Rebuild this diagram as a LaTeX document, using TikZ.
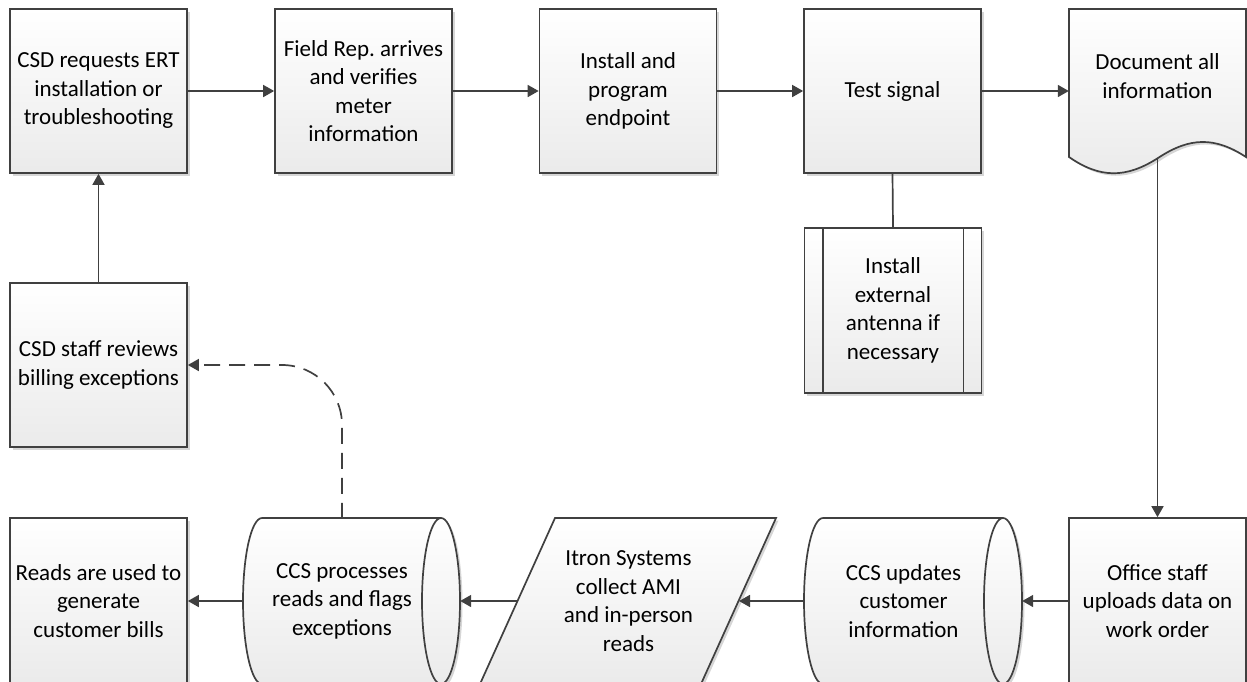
\documentclass[tikz,border=0pt]{standalone}
\usepackage{fontspec}
\setmainfont{Carlito}
\usetikzlibrary{arrows.meta,shadows,calc}
\frenchspacing

\definecolor{edge}{HTML}{404040}

\tikzset{
  shapefill/.style={draw=edge, line width=1.7pt, top color=white, bottom color=black!8,
    drop shadow={shadow xshift=2.5pt, shadow yshift=-2.5pt, fill=black, opacity=0.16}},
  txt/.style={align=center, inner sep=0pt, font=\fontsize{23}{28.5}\selectfont},
  procbox/.style={shapefill, txt, rectangle, minimum width=177pt, minimum height=164pt},
  ghost/.style={txt, rectangle, minimum width=#1, minimum height=164pt},
  flow/.style={draw=edge, line width=1.7pt, -{Triangle[length=11pt,width=12pt]}},
  link/.style={draw=edge, line width=1.7pt},
}

\begin{document}
\begin{tikzpicture}[x=1pt, y=-1pt]
\useasboundingbox (0,0) rectangle (1247,681);

% document shape with wavy bottom
\path[shapefill] (1069,9) -- (1246,9) -- (1246,157)
  .. controls (1215,136.8) and (1190,136.8) .. (1158,158)
  .. controls (1126,178.5) and (1100,178.5) .. (1069,157) -- cycle;

% database cylinder: CCS processes
\path[shapefill] (262,518) -- (441,518)
  arc[start angle=90, end angle=-90, x radius=19pt, y radius=83pt] -- (262,684)
  arc[start angle=270, end angle=90, x radius=19pt, y radius=83pt] -- cycle;
\draw[link] (441,518) arc[start angle=90, end angle=270, x radius=19pt, y radius=83pt];

% database cylinder: CCS updates
\path[shapefill] (823,518) -- (1003,518)
  arc[start angle=90, end angle=-90, x radius=19pt, y radius=83pt] -- (823,684)
  arc[start angle=270, end angle=90, x radius=19pt, y radius=83pt] -- cycle;
\draw[link] (1003,518) arc[start angle=90, end angle=270, x radius=19pt, y radius=83pt];

% data (parallelogram): Itron
\path[shapefill] (555,518) -- (776,518) -- (701,684) -- (480,684) -- cycle;

% top row
\node[procbox] (csd)   at (98.5,91)  {CSD requests ERT\\installation or\\troubleshooting};
\node[procbox] (field) at (363.5,91) {Field Rep. arrives\\and verifies\\meter\\information};
\node[procbox] (inst)  at (628,91)   {Install and\\program\\endpoint};
\node[procbox] (test)  at (892.5,91) {Test signal};
\node[ghost=177pt] (doc) at (1157.5,91) {};
\node[txt] (doctext) at (1157.5,76) {Document all\\information};

% predefined process
\node[procbox, minimum height=165pt] (sub) at (893,310.5) {Install\\external\\antenna if\\necessary};
\draw[link] ($(sub.north west)+(19,0)$) -- ($(sub.south west)+(19,0)$);
\draw[link] ($(sub.north east)+(-19,0)$) -- ($(sub.south east)+(-19,0)$);

% left column
\node[procbox] (review) at (98.5,365) {CSD staff reviews\\billing exceptions};

% bottom row
\node[procbox, minimum height=166pt] (reads)  at (98.5,601)   {Reads are used to\\generate\\customer bills};
\node[ghost=198pt] (cp) at (342,601)   {CCS processes\\reads and flags\\exceptions};
\node[txt] (it) at (628.5,601) {Itron Systems\\collect AMI\\and in-person\\reads};
\coordinate (itL) at (518,601);
\coordinate (itR) at (739,601);
\node[ghost=199pt] (cu) at (903.5,601) {CCS updates\\customer\\information};
\node[procbox, minimum height=166pt] (office) at (1157.5,601) {Office staff\\uploads data on\\work order};
\coordinate (docb) at (1157.5,158);

% connectors
\draw[flow] (csd.east) -- (field.west);
\draw[flow] (field.east) -- (inst.west);
\draw[flow] (inst.east) -- (test.west);
\draw[flow] (test.east) -- (doc.west);
\draw[link] (test.south) -- (sub.north);
\draw[flow] (docb) -- (office.north);
\draw[flow] (office.west) -- ($(cu.east)+(19,0)$);
\draw[flow] (cu.west) -- (itR);
\draw[flow] (itL) -- ($(cp.east)+(19,0)$);
\draw[flow] (cp.west) -- (reads.east);
\draw[flow] (review.north) -- (csd.south);
\draw[flow, dash pattern=on 16pt off 9pt, rounded corners=60pt] (cp.north) |- (review.east);
\end{tikzpicture}
\end{document}
